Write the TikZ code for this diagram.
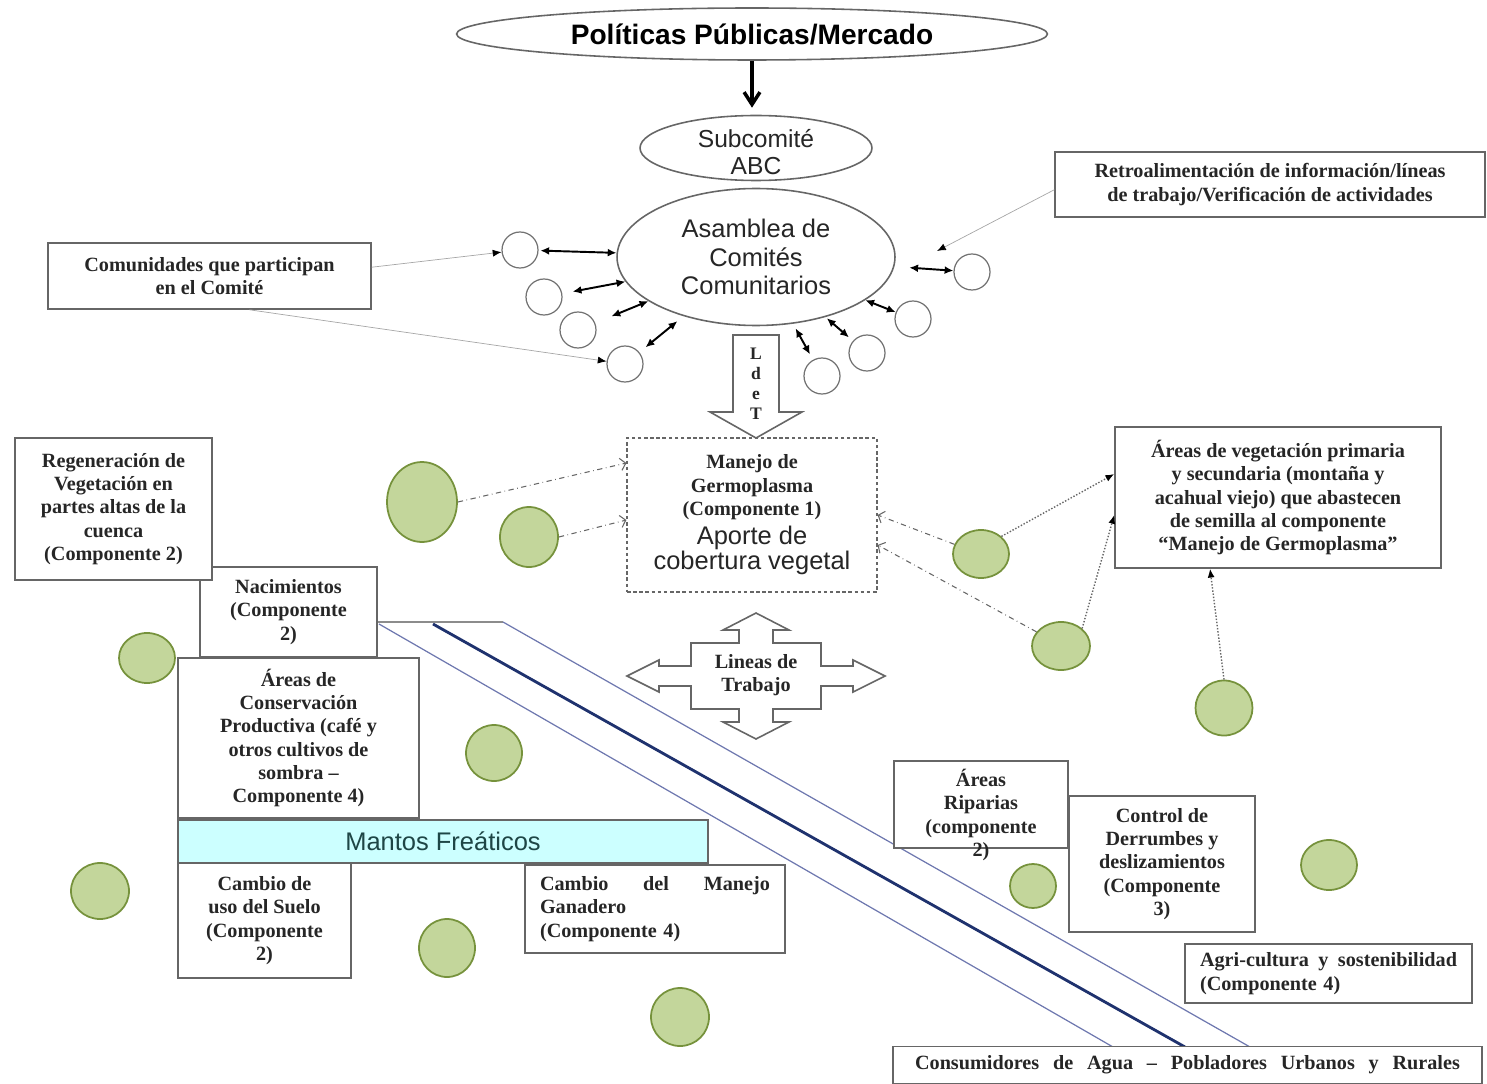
\documentclass[tikz,border=0pt]{standalone}
\usepackage{fontspec}
\setmainfont{Liberation Serif}
\setsansfont{Liberation Sans}
\usetikzlibrary{shapes.geometric,arrows.meta}

\definecolor{leafgreen}{RGB}{195,214,155}
\definecolor{leafedge}{RGB}{118,146,60}
\definecolor{mantos}{RGB}{204,255,255}
\definecolor{mantostext}{RGB}{30,70,70}
\definecolor{waterblue}{RGB}{110,120,175}
\definecolor{riverblue}{RGB}{31,50,110}

\newcommand{\bigsans}{\sffamily\mdseries\fontsize{14.5}{15.5}\selectfont}

\begin{document}
\begin{tikzpicture}[x=0.02cm,y=-0.02cm,
  lbl/.style={align=center,font=\bfseries\fontsize{11.5}{13.3}\selectfont,text=black!85},
  box/.style={lbl,draw=black!60,line width=0.9pt,fill=white,inner sep=2pt},
  oval/.style={ellipse,draw=black!60,line width=0.9pt,fill=white,inner sep=0pt},
  ring/.style={circle,draw=black!55,line width=0.7pt,minimum size=0.72cm,inner sep=0pt},
  leaf/.style={ellipse,draw=leafedge,line width=1pt,fill=leafgreen,inner sep=0pt},
  dbl/.style={{Latex[length=5pt,width=4.5pt]}-{Latex[length=5pt,width=4.5pt]},line width=1.1pt,black},
  link/.style={-{Latex[color=black,length=5pt,width=4pt]},black!35,thin},
  seed/.style={-{Straight Barb[length=3pt,width=7pt]},black!60,dash dot,line width=0.6pt},
  feed/.style={-{Latex[color=black,length=5pt,width=4pt]},black!60,densely dotted,line width=0.8pt},
  water/.style={waterblue,line width=0.7pt}]

  \useasboundingbox (0,0) rectangle (1487,1084);

  % top of the chain
  \node[oval,minimum width=11.82cm,minimum height=1.04cm,
    font=\sffamily\bfseries\fontsize{16}{18}\selectfont] (pol) at (752,34) {Políticas Públicas/Mercado};
  \node[oval,minimum width=4.64cm,minimum height=1.3cm] (sub) at (756,148) {};
  \node[align=center,font=\sffamily\fontsize{14}{15.3}\selectfont,text=black!85] (subtxt) at (756,152) {Subcomité\\ABC};
  \draw[-{Straight Barb[length=7pt,width=9pt]},line width=2pt,shorten >=4pt] (pol.south) -- (pol.south |- sub.north);
  \node[oval,minimum width=5.56cm,minimum height=2.74cm,align=center,
    font=\sffamily\fontsize{14.5}{16.2}\selectfont,text=black!85] (asm) at (756,257) {Asamblea de\\Comités\\Comunitarios};

  % communities round the assembly
  \foreach \i/\p in {1/{(520,250)},2/{(544,297)},3/{(578,330)},4/{(625,364)},
                     5/{(822,376)},6/{(867,353)},7/{(913,319)},8/{(972,272)}}
    \node[ring] (c\i) at \p {};
  \foreach \i/\a/\b in {1/1/0,2/6/0,3/10/0,4/4.5/4.5,5/3.5/3,6/3/1,7/0/0,8/0/8.5}
    \draw[dbl,shorten <=\a pt,shorten >=\b pt] (c\i) -- (asm);

  \node[box,minimum width=6.46cm,minimum height=1.32cm] (comm) at (209.5,276) {Comunidades que participan\\en el Comité};
  \node[box,minimum width=8.6cm,minimum height=1.3cm] (retro) at (1270,184.5) {Retroalimentación de información/líneas\\de trabajo/Verificación de actividades};
  \draw[link] ([yshift=5pt]comm.east) -- (c1);
  \draw[link] ([xshift=0.8cm]comm.south) -- (c4);
  \coordinate (fb) at (937,251);
  \draw[link] ([yshift=-3pt]retro.west) -- (fb);

  % water lines
  \draw[black!45,line width=0.7pt] (377,622) -- (503,622);
  \draw[water] (503,622) -- (1250,1047);
  \draw[water] (379,624) -- (1113,1047);
  \draw[riverblue,line width=1.6pt] (433,624) -- (1185,1047);

  % germoplasm
  \node[box,line width=0.7pt,dash pattern=on 2pt off 1.5pt,minimum width=5cm,minimum height=3.08cm] (man) at (752,515)
    {Manejo de\\Germoplasma\\(Componente 1)\\[3pt]\bigsans Aporte de\\\bigsans cobertura vegetal};
  \draw[black!60,line width=0.9pt,fill=white] (733,335) -- (779,335) -- (779,412) -- (802,412)
    -- (756,438) -- (710,412) -- (733,412) -- cycle;
  \node[align=center,font=\bfseries\fontsize{10}{11.3}\selectfont,text=black!85] (ldet) at (756,384) {L\\d\\e\\T};

  % working lines
  \begin{scope}[shift={(756,676)}]
    \draw[black!60,line width=0.9pt,fill=white] (0,-63) -- (33,-46) -- (17,-46) -- (17,-33) -- (65,-33) -- (65,-10)
      -- (97,-10) -- (97,-16) -- (129,0) -- (97,16) -- (97,10) -- (65,10) -- (65,33) -- (17,33) -- (17,46)
      -- (33,46) -- (0,63) -- (-33,46) -- (-17,46) -- (-17,33) -- (-65,33) -- (-65,10) -- (-97,10)
      -- (-97,16) -- (-129,0) -- (-97,-16) -- (-97,-10) -- (-65,-10) -- (-65,-33) -- (-17,-33) -- (-17,-46)
      -- (-33,-46) -- cycle;
    \node[lbl] (lt) at (0,-1) {Lineas de\\Trabajo};
  \end{scope}

  % vegetation patches
  \foreach \i/\p/\w/\h in {1/{(422,502)}/70/80, 2/{(529,537)}/58/60, 3/{(981,554)}/56/48,
      4/{(1061,646)}/58/48, 5/{(1224,708)}/57/55, 6/{(147,658)}/56/50, 7/{(494,753)}/56/56,
      8/{(100,891)}/58/56, 9/{(447,948)}/56/58, 10/{(680,1017)}/58/58, 11/{(1033,886)}/46/44,
      12/{(1329,865)}/56/50}
    \node[leaf,minimum width=\w*0.02cm,minimum height=\h*0.02cm] (g\i) at \p {};

  \node[box,minimum width=6.52cm,minimum height=2.82cm] (veg) at (1278,497.5)
    {Áreas de vegetación primaria\\y secundaria (montaña y\\acahual viejo) que abastecen\\de semilla al componente\\“Manejo de Germoplasma”};

  \draw[seed] (g1.east) -- ([yshift=1.04cm]man.west);
  \draw[seed] (g2.east) -- ([yshift=-0.1cm]man.west);
  \draw[seed] (g3.160) -- (man.east);
  \draw[seed] (g4.150) -- ([yshift=-0.6cm]man.east);
  \draw[feed] (g3.north east) -- ([yshift=0.47cm]veg.west);
  \draw[feed] (g4.north east) -- ([yshift=-0.35cm]veg.west);
  \draw[feed] (g5.north) -- ([xshift=-1.36cm]veg.south);

  % left side
  \node[box,minimum width=3.54cm,minimum height=1.8cm] (nacim) at (288.5,612) {Nacimientos\\(Componente\\2)};
  \node[box,minimum width=3.94cm,minimum height=2.84cm] (regen) at (113.5,509)
    {Regeneración de\\Vegetación en\\partes altas de la\\cuenca\\(Componente 2)};
  \node[box,minimum width=4.82cm,minimum height=3.2cm] (cons) at (298.5,738)
    {Áreas de\\Conservación\\Productiva (café y\\otros cultivos de\\sombra –\\Componente 4)};
  \node[box,fill=mantos,minimum width=10.6cm,minimum height=0.86cm,
    font=\sffamily\fontsize{14.5}{16}\selectfont,text=mantostext] (mant) at (443,841.5) {Mantos Freáticos};
  \node[box,minimum width=3.46cm,minimum height=2.3cm] (suelo) at (264.5,920.5) {Cambio de\\uso del Suelo\\(Componente\\2)};
  \node[box,align=left,text width=4.6cm,minimum width=5.2cm,minimum height=1.76cm] (gan) at (655,909)
    {Cambio\hfill del\hfill Manejo\\Ganadero\\(Componente 4)};

  % right side
  \node[box,minimum width=3.48cm,minimum height=1.74cm] (ripar) at (981,804.5) {};
  \node[lbl] (ripartxt) at (981,815) {Áreas\\Riparias\\(componente\\2)};
  \node[box,minimum width=3.72cm,minimum height=2.72cm] (derr) at (1162,864)
    {Control de\\Derrumbes y\\deslizamientos\\(Componente\\3)};
  \node[box,align=left,text width=5.14cm,minimum width=5.74cm,minimum height=1.18cm] (agri) at (1328.5,973.5)
    {Agri-cultura\hfill y\hfill sostenibilidad\\(Componente 4)};
  \node[box,minimum width=11.78cm,minimum height=0.74cm] (usr) at (1187.5,1065)
    {\makebox[10.9cm][s]{Consumidores de Agua – Pobladores Urbanos y Rurales}};
\end{tikzpicture}
\end{document}
